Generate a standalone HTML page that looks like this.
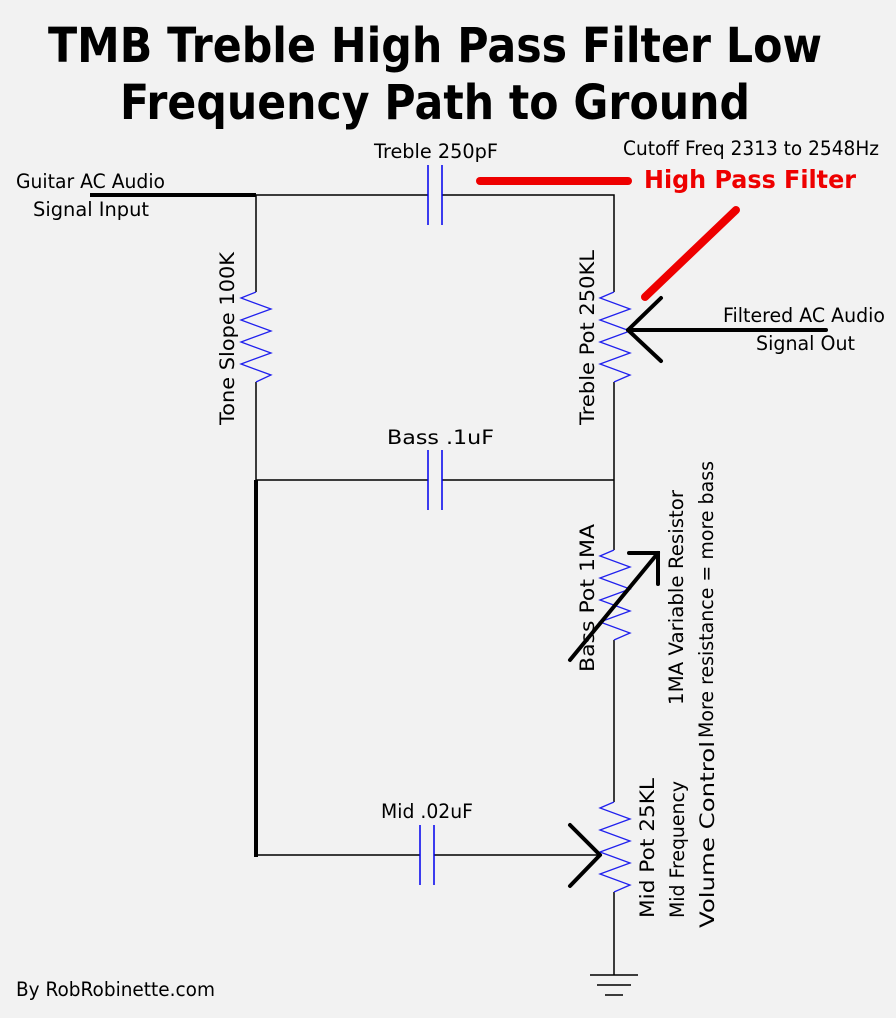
<!DOCTYPE html>
<html><head><meta charset="utf-8"><style>
html,body{margin:0;padding:0;background:#f2f2f2;}
svg{display:block;}
text{font-family:"DejaVu Sans","Liberation Sans",sans-serif;fill:#000;}
</style></head><body>
<svg width="896" height="1018" viewBox="0 0 896 1018" xmlns="http://www.w3.org/2000/svg">
<rect width="896" height="1018" fill="#f2f2f2"/>
<text x="48" y="62" font-size="48" font-weight="bold" textLength="774" lengthAdjust="spacingAndGlyphs">TMB Treble High Pass Filter Low</text>
<text x="120" y="119" font-size="48" font-weight="bold" textLength="630" lengthAdjust="spacingAndGlyphs">Frequency Path to Ground</text>

<g font-size="19.5">
<text x="374" y="158" textLength="124" lengthAdjust="spacingAndGlyphs">Treble 250pF</text>
<text x="623" y="155" textLength="256" lengthAdjust="spacingAndGlyphs">Cutoff Freq 2313 to 2548Hz</text>
<text x="16" y="188" textLength="149" lengthAdjust="spacingAndGlyphs">Guitar AC Audio</text>
<text x="33" y="216" textLength="116" lengthAdjust="spacingAndGlyphs">Signal Input</text>
<text x="723" y="322" textLength="162" lengthAdjust="spacingAndGlyphs">Filtered AC Audio</text>
<text x="756" y="350" textLength="99" lengthAdjust="spacingAndGlyphs">Signal Out</text>
<text x="387" y="444" textLength="107" lengthAdjust="spacingAndGlyphs">Bass .1uF</text>
<text x="381" y="818" textLength="92" lengthAdjust="spacingAndGlyphs">Mid .02uF</text>
<text x="16" y="996" textLength="199" lengthAdjust="spacingAndGlyphs">By RobRobinette.com</text>
</g>
<text x="644" y="188" font-size="25" font-weight="bold" style="fill:#ee0000" textLength="212" lengthAdjust="spacingAndGlyphs">High Pass Filter</text>

<g font-size="19.5">
<text transform="translate(234,425) rotate(-90)" textLength="173" lengthAdjust="spacingAndGlyphs">Tone  Slope  100K</text>
<text transform="translate(594,425) rotate(-90)" textLength="175" lengthAdjust="spacingAndGlyphs">Treble  Pot  250KL</text>
<text transform="translate(594,672) rotate(-90)" textLength="148" lengthAdjust="spacingAndGlyphs">Bass  Pot  1MA</text>
<text transform="translate(683,705) rotate(-90)" textLength="215" lengthAdjust="spacingAndGlyphs">1MA  Variable  Resistor</text>
<text transform="translate(713,738) rotate(-90)" textLength="277" lengthAdjust="spacingAndGlyphs">More  resistance = more bass</text>
<text transform="translate(654,918) rotate(-90)" textLength="140" lengthAdjust="spacingAndGlyphs">Mid  Pot  25KL</text>
<text transform="translate(684,918) rotate(-90)" textLength="137" lengthAdjust="spacingAndGlyphs">Mid  Frequency</text>
<text transform="translate(714,928) rotate(-90)" textLength="187" lengthAdjust="spacingAndGlyphs">Volume  Control</text>
</g>

<g stroke="#000" stroke-width="1.5" fill="none">
<polyline points="256,195 428,195"/>
<polyline points="442,195 614,195 614,292"/>
<line x1="256" y1="195" x2="256" y2="292"/>
<line x1="256" y1="382" x2="256" y2="480"/>
<line x1="614" y1="382" x2="614" y2="550"/>
<line x1="256" y1="480" x2="428" y2="480"/>
<line x1="442" y1="480" x2="614" y2="480"/>
<line x1="614" y1="640" x2="614" y2="802"/>
<line x1="256" y1="855" x2="420" y2="855"/>
<line x1="434" y1="855" x2="600" y2="855"/>
<line x1="614" y1="892" x2="614" y2="975"/>
<line x1="590" y1="975" x2="638" y2="975"/>
<line x1="597" y1="985" x2="631" y2="985"/>
<line x1="605" y1="995" x2="623" y2="995"/>
</g>
<g stroke="#000" stroke-width="4" fill="none">
<line x1="90" y1="195" x2="256" y2="195"/>
<line x1="256" y1="480" x2="256" y2="857"/>
</g>

<g stroke="#0000ee" stroke-width="1.5">
<line x1="428" y1="165" x2="428" y2="225"/><line x1="442" y1="165" x2="442" y2="225"/>
<line x1="428" y1="450" x2="428" y2="510"/><line x1="442" y1="450" x2="442" y2="510"/>
<line x1="420" y1="825" x2="420" y2="885"/><line x1="434" y1="825" x2="434" y2="885"/>
</g>

<g stroke="#2020ee" stroke-width="1.3" fill="none">
<polyline points="256,292 241,298 271,309 241,320 271,331 241,342 271,353 241,364 271,375 256,382"/>
<polyline points="614,292 600,298 630,309 600,320 630,331 600,342 630,353 600,364 630,375 614,382"/>
<polyline points="614,550 600,556 630,567 600,578 630,589 600,600 630,611 600,622 630,633 614,640"/>
<polyline points="614,802 600,808 630,819 600,830 630,841 600,852 630,863 600,874 630,885 614,892"/>
</g>

<g stroke="#000" stroke-width="4" fill="none" stroke-linecap="round">
<line x1="628" y1="330" x2="826" y2="330"/>
<line x1="628" y1="330" x2="661" y2="298"/>
<line x1="628" y1="330" x2="661" y2="361"/>
<line x1="570" y1="660" x2="658" y2="553"/>
<polyline points="629,553 658,553 658,584"/>
<line x1="600" y1="855" x2="570" y2="825"/>
<line x1="600" y1="855" x2="570" y2="886"/>
</g>

<g stroke="#ee0000" stroke-width="8" stroke-linecap="round">
<line x1="480" y1="181" x2="628" y2="181"/>
<line x1="645" y1="297" x2="736" y2="210"/>
</g>
</svg>
</body></html>
